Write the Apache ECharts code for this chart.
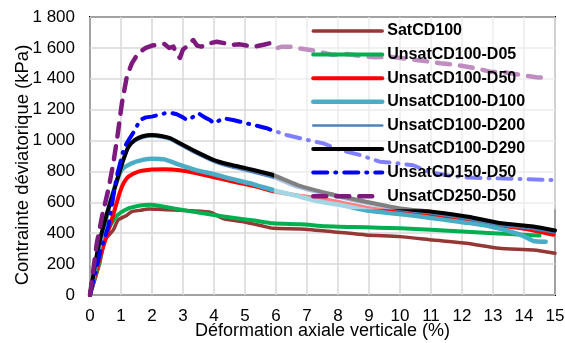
<!DOCTYPE html>
<html>
<head>
<meta charset="utf-8">
<script src="https://cdn.jsdelivr.net/npm/echarts@6/dist/echarts.min.js"></script>
<style>html,body{margin:0;padding:0;background:#fff}#c{width:565px;height:343px}</style>
</head>
<body>
<div id="c"></div>
<script>
const seriesNames = ['SatCD100','UnsatCD100-D05','UnsatCD100-D50','UnsatCD100-D100','UnsatCD100-D200','UnsatCD100-D290','UnsatCD150-D50','UnsatCD250-D50'];

const satX = [0,0.3,0.48,0.75,0.91,1.18,1.35,1.61,1.9,2.2,2.7,3.3,3.9,4.3,4.9,5.5,5.9,6.8,7.84,8.9,10.0,11.07,12.15,13.2,14.3,15.0];
const satY = [0,195,356,420,486,515,540,548,557,555,550,545,535,495,475,450,432,428,410,389,378,356,335,302,291,270];

const d05X = [0,0.32,0.48,0.81,1.0,1.24,1.5,1.77,2.0,2.2,2.7,3.3,4.0,4.6,5.3,5.9,6.8,7.6,8.5,9.3,10.0,11.0,12.15,13.0,14.1,14.5];
const d05Y = [0,230,380,500,535,561,575,583,585,578,561,540,518,500,482,464,458,445,440,436,432,422,410,400,389,385];

const d50X = [0,0.3,0.55,0.75,0.97,1.1,1.24,1.56,2.0,2.4,2.9,3.4,4.0,4.6,5.3,5.9,6.7,7.4,8.2,9.0,9.8,10.6,11.4,12.2,13.0,13.9,14.5,14.95];
const d50Y = [0,230,390,520,670,730,766,799,812,815,808,790,762,735,705,672,645,626,595,562,545,525,505,480,455,432,410,390];

const d100X = [0,0.3,0.6,0.8,1.02,1.35,1.7,2.0,2.4,2.9,3.4,4.0,4.6,5.3,5.9,6.7,7.4,8.2,9.0,9.8,10.6,11.4,12.2,13.0,13.65,14.0,14.3,14.7];
const d100Y = [0,300,560,700,810,853,875,883,878,842,810,782,750,715,680,640,605,578,545,528,510,488,467,440,405,380,350,345];

const d200X = [0,0.27,0.55,0.81,1.05,1.24,1.45,1.7,2.0,2.3,2.6,2.9,3.4,4.0,4.5,5.05,5.5,5.9,6.7,7.8,8.9,10.0,11.1,12.2,13.2,14.3,15.0];
const d200Y = [0,310,525,695,850,950,995,1018,1026,1020,1005,972,918,862,830,805,782,760,695,640,592,550,525,492,452,428,405];

const d290X = [0,0.27,0.55,0.81,1.05,1.24,1.45,1.7,2.0,2.3,2.6,2.9,3.4,4.0,4.5,5.05,5.5,5.9,6.7,7.8,8.9,10.0,11.1,12.2,13.2,14.3,15.0];
const d290Y = [0,313,530,701,860,960,1005,1028,1036,1030,1015,982,930,874,845,820,798,777,712,652,604,561,538,507,466,443,418];

const cd150X = [0,0.32,0.59,0.86,1.08,1.18,1.45,1.61,1.8,1.99,2.2,2.42,2.6,2.8,3.0,3.12,3.3,3.5,3.7,3.87,4.0,4.3,4.62,4.84,5.27,5.7,5.86,6.34,7.0,7.53,8.06,8.7,9.35,9.9,10.43,10.9,11.5,12.2,13.0,14.0,14.9];
const cd150Y = [0,272,443,766,939,982,1068,1133,1150,1155,1165,1177,1180,1170,1150,1133,1150,1177,1150,1133,1112,1144,1133,1122,1101,1080,1068,1036,1004,982,939,907,863,853,840,800,775,760,756,750,745];

const cd250X = [0,0.22,0.4,0.59,0.75,0.87,1.03,1.19,1.35,1.56,1.8,2.0,2.15,2.4,2.55,2.69,2.8,2.9,3.0,3.12,3.25,3.33,3.45,3.6,3.75,3.87,4.09,4.35,4.52,4.84,5.05,5.27,5.4,5.6,5.8,6.02,6.2,6.45,6.7,7.0,7.4,7.84,8.3,8.8,9.2,9.68,10.2,10.8,11.3,11.8,12.4,12.9,13.4,13.9,14.4,14.85];
const cd250Y = [0,335,520,681,850,1006,1243,1416,1500,1567,1600,1615,1619,1625,1600,1608,1560,1535,1590,1608,1640,1651,1615,1608,1625,1630,1640,1630,1619,1623,1615,1608,1612,1620,1630,1598,1608,1608,1598,1590,1575,1554,1560,1545,1540,1543,1530,1515,1500,1490,1470,1446,1440,1425,1410,1403];

const xTicks = {min:0, max:15, interval:1};
const yTicks = {min:0, max:1800, interval:200};

function pairs(xs, ys){ return xs.map((x,i)=>[x, ys[i]]); }

const FONT = 'Liberation Sans, Arial, sans-serif';

const styles = [
  {color:'#953735', width:3.5, type:'solid', smooth:0.2},
  {color:'#00B050', width:4, type:'solid', smooth:0.2},
  {color:'#FF0000', width:4, type:'solid', smooth:0.2},
  {color:'#4BACC6', width:4.5, type:'solid', smooth:0.2},
  {color:'#4F81BD', width:2.5, type:'solid', smooth:0.2},
  {color:'#000000', width:4, type:'solid', smooth:0.2},
  {color:'#0000FF', width:4, type:[14,8,1,8], smooth:0},
  {color:'#7E1A7E', width:4.5, type:[13,10], smooth:0}
];
const dataSets = [pairs(satX,satY),pairs(d05X,d05Y),pairs(d50X,d50Y),pairs(d100X,d100Y),pairs(d200X,d200Y),pairs(d290X,d290Y),pairs(cd150X,cd150Y),pairs(cd250X,cd250Y)];

const chart = echarts.init(document.getElementById('c'), null, {renderer:'canvas'});
chart.setOption({
  animation:false,
  backgroundColor:'#fff',
  grid:{left:90, right:10, top:17, bottom:48, show:true, borderColor:'#000', borderWidth:2, backgroundColor:'transparent', outerBoundsMode:'none', containLabel:false},
  legend:{
    orient:'vertical', left:274, top:18,
    padding:[5,32,5,37],
    itemWidth:69, itemHeight:16, itemGap:7.6,
    backgroundColor:'rgba(255,255,255,0.5)',
    itemStyle:{opacity:0},
    lineStyle:{width:'inherit', cap:'round'},
    textStyle:{fontFamily:FONT, fontSize:16, fontWeight:'bold', color:'#000'},
    data:seriesNames
  },
  xAxis:{
    type:'value', min:xTicks.min, max:xTicks.max, interval:xTicks.interval,
    name:'Déformation axiale verticale (%)', nameLocation:'middle', nameGap:27.5, nameMoveOverlap:false,
    nameTextStyle:{fontFamily:FONT, fontSize:18, color:'#000'},
    axisLine:{show:false}, axisTick:{show:false},
    axisLabel:{fontFamily:FONT, fontSize:17, color:'#000', margin:13},
    splitLine:{show:true, lineStyle:{color:'#d9d9d9', width:1.5}}
  },
  yAxis:{
    type:'value', min:yTicks.min, max:yTicks.max, interval:yTicks.interval,
    name:'Contrainte déviatorique (kPa)', nameLocation:'middle', nameGap:58, nameRotate:90, nameMoveOverlap:false,
    nameTextStyle:{fontFamily:FONT, fontSize:18.5, color:'#000', padding:[0,18,0,0]},
    axisLine:{show:false}, axisTick:{show:false},
    axisLabel:{fontFamily:FONT, fontSize:17, color:'#000', margin:15,
      formatter:v => v>=1000 ? Math.floor(v/1000)+' '+String(v%1000).padStart(3,'0') : String(v)},
    splitLine:{show:true, lineStyle:{color:'#d9d9d9', width:1.5}}
  },
  series: seriesNames.map((n,i)=>({
    name:n, type:'line', data:dataSets[i], symbol:'none', showSymbol:false,
    smooth:styles[i].smooth, z:2,
    itemStyle:{color:styles[i].color},
    lineStyle:{color:styles[i].color, width:styles[i].width, type:styles[i].type, cap:'round', join:'round'}
  }))
});
</script>
</body>
</html>
